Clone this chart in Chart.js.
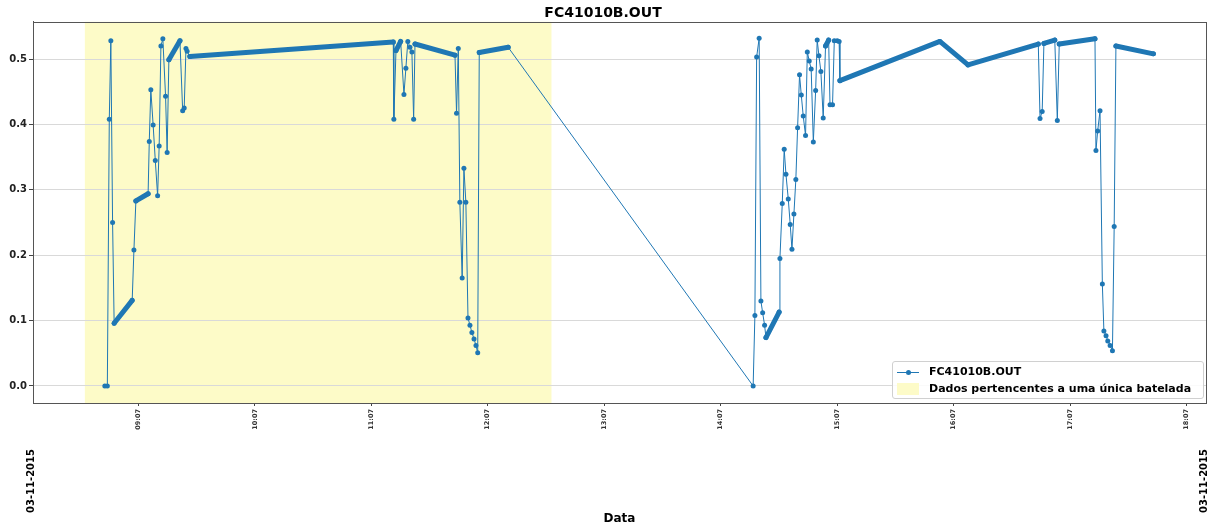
<!DOCTYPE html>
<html lang="pt-BR">
<head>
<meta charset="utf-8">
<title>FC41010B.OUT</title>
<script src="https://cdn.jsdelivr.net/npm/chart.js@4.4.1/dist/chart.umd.min.js"></script>
<style>
    html, body { margin: 0; padding: 0; background: #fff; }
    #wrap { position: relative; width: 1217px; height: 528px; }
    #legenda {
        position: absolute; left: 892px; top: 361px; width: 310px; height: 36px;
        background: rgba(255, 255, 255, 0.85); border: 1px solid #d0d0d0; border-radius: 3px;
        font: bold 11px "DejaVu Sans", sans-serif; color: #000;
    }
    .item { position: absolute; left: 0; height: 16px; width: 100%; }
    .amostra { position: absolute; left: 4px; top: 2px; width: 22px; height: 12px; }
    .amostra .linha { position: absolute; left: 0; right: 0; top: 6px; height: 1px; background: #1f77b4; }
    .amostra .ponto { position: absolute; left: 8.5px; top: 4px; width: 5px; height: 5px; border-radius: 50%; background: #1f77b4; }
    .amostra.faixa { background: #fdfbc8; }
    .texto { position: absolute; left: 36px; top: 1px; white-space: nowrap; }
</style>
</head>
<body>
<div id="wrap">
    <canvas id="grafico" width="1217" height="528"></canvas>
    <div id="legenda">
        <div class="item" style="top:2px">
            <div class="amostra"><div class="linha"></div><div class="ponto"></div></div>
            <span class="texto" id="legSerie"></span>
        </div>
        <div class="item" style="top:19px">
            <div class="amostra faixa"></div>
            <span class="texto" id="legFaixa"></span>
        </div>
    </div>
</div>
<script>
// FC41010B.OUT - leituras de 03-11-2015

const titulo = 'FC41010B.OUT';
const dataRotulo = '03-11-2015';
const rotuloBatelada = 'Dados pertencentes a uma única batelada';

// horário de cada leitura, em minutos desde 00:00
const minutos = [
    529.7, 531.0, 532.0, 532.8, 533.7, 534.5, 543.8, 544.7, 545.7, 552.0,
    552.6, 553.4, 554.6, 555.7, 556.9, 557.7, 558.6, 559.6, 561.0, 561.8,
    562.7, 568.4, 569.8, 570.6, 571.5, 572.1, 573.5, 678.3, 678.6, 679.7,
    682.1, 683.8, 684.8, 685.8, 686.9, 687.9, 688.8, 689.5, 710.1, 710.9,
    711.8, 712.6, 713.8, 714.7, 715.7, 716.8, 717.8, 718.8, 719.9, 720.9,
    721.8, 722.6, 737.5,
    863.7, 864.6, 865.5, 866.8, 867.7, 868.6, 869.6, 870.3, 877.1, 877.5,
    878.7, 879.7, 880.6, 881.8, 882.8, 883.7, 884.7, 885.7, 886.6, 887.6,
    888.5, 889.5, 890.7, 891.6, 892.6, 893.6, 894.7, 895.9, 896.7, 897.6,
    898.6, 899.8, 901.0, 902.6, 903.3, 904.6, 905.5, 907.0, 908.0, 908.4,
    959.9, 974.4, 1010.6, 1011.5, 1012.6, 1013.5, 1019.1, 1020.4, 1021.4, 1039.8,
    1040.3, 1041.2, 1042.4, 1043.6, 1044.4, 1045.5, 1046.4, 1047.6, 1048.8, 1049.7,
    1050.6, 1069.9
];

const valores = [
    0.000, 0.000, 0.408, 0.528, 0.250, 0.096, 0.131, 0.208, 0.283, 0.294,
    0.374, 0.453, 0.399, 0.345, 0.291, 0.367, 0.520, 0.531, 0.443, 0.357,
    0.499, 0.528, 0.421, 0.425, 0.516, 0.512, 0.504, 0.526, 0.408, 0.513,
    0.527, 0.446, 0.486, 0.527, 0.518, 0.511, 0.408, 0.523, 0.506, 0.417,
    0.516, 0.281, 0.165, 0.333, 0.281, 0.104, 0.093, 0.082, 0.072, 0.062,
    0.051, 0.510, 0.518,
    0.000, 0.108, 0.503, 0.532, 0.130, 0.112, 0.093, 0.074, 0.113, 0.195,
    0.279, 0.362, 0.324, 0.286, 0.247, 0.209, 0.263, 0.316, 0.395, 0.476,
    0.445, 0.413, 0.383, 0.511, 0.497, 0.485, 0.373, 0.452, 0.529, 0.505,
    0.481, 0.410, 0.520, 0.529, 0.430, 0.430, 0.528, 0.528, 0.527, 0.467,
    0.527, 0.491, 0.523, 0.409, 0.420, 0.524, 0.529, 0.406, 0.523, 0.531,
    0.360, 0.390, 0.421, 0.156, 0.084, 0.077, 0.069, 0.062, 0.054, 0.244,
    0.520, 0.508
];

// trechos com amostras coladas umas nas outras (registro contínuo)
const trechosContinuos = [
    [534.5, 543.8], [545.7, 552.0], [562.7, 568.4], [573.5, 678.3], [679.7, 682.1],
    [689.5, 710.1], [722.6, 737.5], [870.3, 877.1], [901.0, 902.6], [908.4, 1010.6],
    [1013.5, 1019.1], [1021.4, 1039.8], [1050.6, 1069.9]
];

// janela da batelada (minutos)
const batelada = [519.4, 759.8];

const marcasHorario = ['09:07', '10:07', '11:07', '12:07', '13:07', '14:07', '15:07', '16:07', '17:07', '18:07'];
const marcasY = [0.0, 0.1, 0.2, 0.3, 0.4, 0.5];
const limitesX = [492.7, 1097.0];
const limitesY = [-0.026, 0.557];

function paraMinutos(hhmm) {
    const partes = hhmm.split(':');
    return Number(partes[0]) * 60 + Number(partes[1]);
}

function continuo(a, b) {
    return trechosContinuos.some(t => a >= t[0] - 0.01 && b <= t[1] + 0.01);
}

document.getElementById('legSerie').textContent = titulo;
document.getElementById('legFaixa').textContent = rotuloBatelada;

// faixa amarela, moldura e rótulos de data
const extras = {
    id: 'extras',
    beforeDraw(chart) {
        const { ctx, chartArea, scales } = chart;
        const x0 = scales.x.getPixelForValue(batelada[0]);
        const x1 = scales.x.getPixelForValue(batelada[1]);
        ctx.save();
        ctx.fillStyle = '#fdfbc8';
        ctx.fillRect(x0, chartArea.top, x1 - x0, chartArea.bottom - chartArea.top);
        ctx.restore();
    },
    afterDraw(chart) {
        const { ctx, chartArea } = chart;
        ctx.save();
        ctx.strokeStyle = '#555';
        ctx.lineWidth = 1;
        ctx.strokeRect(Math.round(chartArea.left) + 0.5, Math.round(chartArea.top) + 0.5,
            Math.round(chartArea.right - chartArea.left), Math.round(chartArea.bottom - chartArea.top));
        ctx.font = 'bold 10px "DejaVu Sans"';
        ctx.fillStyle = '#000';
        ctx.textAlign = 'center';
        ctx.textBaseline = 'middle';
        [chartArea.left, chartArea.right].forEach(x => {
            ctx.save();
            ctx.translate(x - 1.5, 481);
            ctx.rotate(-Math.PI / 2);
            ctx.fillText(dataRotulo, 0, 0);
            ctx.restore();
        });
        ctx.restore();
    }
};

Chart.defaults.font.family = '"DejaVu Sans", sans-serif';

new Chart(document.getElementById('grafico'), {
    type: 'line',
    data: {
        datasets: [{
            label: titulo,
            data: minutos.map((m, i) => ({ x: m, y: valores[i] })),
            borderColor: '#1f77b4',
            borderWidth: 1,
            borderCapStyle: 'round',
            borderJoinStyle: 'round',
            pointRadius: 2.5,
            pointHoverRadius: 2.5,
            pointBorderWidth: 0,
            pointBackgroundColor: '#1f77b4',
            tension: 0,
            segment: {
                borderWidth: c => continuo(c.p0.parsed.x, c.p1.parsed.x) ? 5 : 1
            }
        }]
    },
    options: {
        responsive: false,
        animation: false,
        devicePixelRatio: 1,
        layout: { padding: { left: 0, right: 11, top: 0, bottom: 0 } },
        plugins: {
            legend: { display: false },
            tooltip: { enabled: false },
            title: {
                display: true,
                text: titulo,
                color: '#000',
                font: { size: 14, weight: 'bold' },
                padding: { top: 5, bottom: 0 }
            }
        },
        scales: {
            x: {
                type: 'linear',
                min: limitesX[0],
                max: limitesX[1],
                afterFit: s => { s.height = 125; },
                afterBuildTicks: s => { s.ticks = marcasHorario.map(h => ({ value: paraMinutos(h) })); },
                ticks: {
                    autoSkip: false,
                    minRotation: 90,
                    maxRotation: 90,
                    padding: 3,
                    color: '#333',
                    font: { size: 6.5, weight: 'bold' },
                    callback: (v, i) => marcasHorario[i]
                },
                grid: { drawOnChartArea: false, tickLength: 3, tickColor: '#444' },
                border: { color: '#555' },
                title: {
                    display: true,
                    text: 'Data',
                    color: '#000',
                    font: { size: 12, weight: 'bold' },
                    padding: { top: 0, bottom: 2 }
                }
            },
            y: {
                min: limitesY[0],
                max: limitesY[1],
                afterFit: s => { s.width = 33; },
                afterBuildTicks: s => { s.ticks = marcasY.map(v => ({ value: v })); },
                ticks: {
                    padding: 2,
                    color: '#222',
                    font: { size: 10, weight: 'bold' },
                    callback: v => v.toFixed(1)
                },
                grid: { color: '#d9d9d9', tickLength: 4, tickColor: '#444' },
                border: { color: '#555' }
            }
        }
    },
    plugins: [extras]
});
</script>
</body>
</html>
